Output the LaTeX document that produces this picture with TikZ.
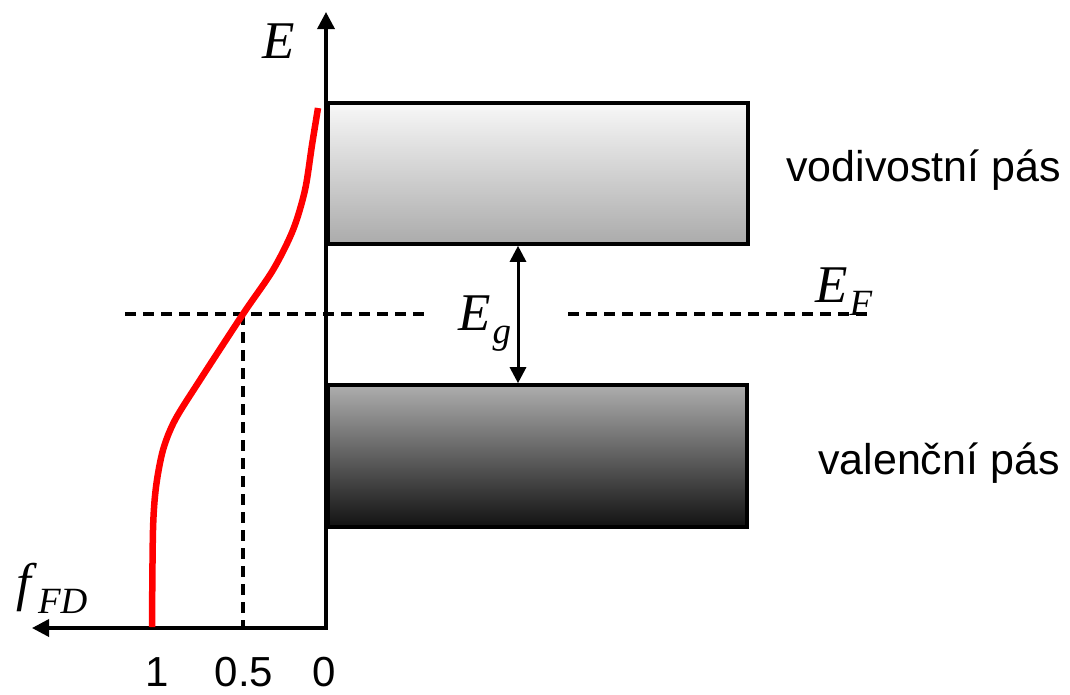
\documentclass[tikz,border=0pt]{standalone}
\usepackage{fontspec}
\setmainfont{Liberation Serif}
\newfontfamily\popisfont{Liberation Sans}
\usetikzlibrary{arrows.meta}

% velicina s indexem
\newcommand{\velind}[3][2pt]{\textit{#2}\kern#1\raisebox{-13pt}{\fontsize{37}{40}\selectfont\textit{#3}}}

\tikzset{
  osa/.style={line width=3.5pt, {Triangle[length=17pt,width=17pt]}-{Triangle[length=17pt,width=17pt]}},
  sipka/.style={line width=3pt, {Triangle[length=16pt,width=16pt]}-{Triangle[length=16pt,width=16pt]}},
  pas/.style={draw, line width=3.6pt, minimum width=420pt, inner sep=0pt},
  carkovane/.style={line width=3.1pt, dash pattern=on 11pt off 7pt},
  popis/.style={font=\popisfont\fontsize{43}{48}\selectfont, inner sep=0pt, anchor=base west},
  cislo/.style={font=\popisfont\fontsize{42}{46}\selectfont, inner sep=0pt, anchor=north},
  velicina/.style={font=\fontsize{53}{60}\selectfont, inner sep=0pt, anchor=base west},
  fermi/.style={red, line width=6.5pt},
}

\begin{document}
\begin{tikzpicture}[x=1pt, y=-1pt]
\useasboundingbox (0,0) rectangle (1070,694);

% Body os a Fermiho hladiny
\coordinate (O) at (326,628);
\coordinate (Etop) at (326,12);
\coordinate (fend) at (32,628);
\coordinate (polovina) at (243,314);
\coordinate (efL1) at (125,314);
\coordinate (efL2) at (425,314);
\coordinate (efR1) at (568,314);
\coordinate (efR2) at (870,314);
\coordinate (gx) at (518,0);

% Pasy
\node[pas, minimum height=141pt, top color=black!3, bottom color=black!33] (cb) at (538,173.5) {};
\node[pas, minimum height=142pt, minimum width=419pt, top color=black!32, bottom color=black!93] (vb) at (537.5,456) {};

% Sirka zakazaneho pasu
\draw[sipka] (gx |- cb.south) -- (gx |- vb.north);

% Fermiho hladina (carkovane)
\draw[carkovane] (efL1) -- (efL2);
\draw[carkovane] (efR1) -- (efR2);
\draw[carkovane] (polovina) -- (polovina |- O);

% Osy
\draw[osa] (Etop) -- (O) -- (fend);

% Fermiho-Diracova funkce
\draw[fermi] plot[smooth] coordinates {(318,108) (312,145) (305,190) (293,230) (273,270) (243,314) (200,380) (175,420) (163,450) (156,487) (153,530) (152,627)};

% Popisky
\node[velicina] (lblE) at (262,58) {\textit{E}};
\node[velicina] (lblf) at (16,600) {\velind[1pt]{f}{FD}};
\node[velicina] (lblEg) at (458,330) {\velind{E}{g}};
\node[velicina] (lblEF) at (815,302) {\velind{E}{F}};
\node[popis] (vodiv) at (786,181) {vodivostní pás};
\node[popis] (valen) at (818,474) {valenční pás};
\node[cislo] (t1) at (157,657) {1};
\node[cislo] (t05) at (244,657) {0.5};
\node[cislo] (t0) at (324,657) {0};

\end{tikzpicture}
\end{document}
